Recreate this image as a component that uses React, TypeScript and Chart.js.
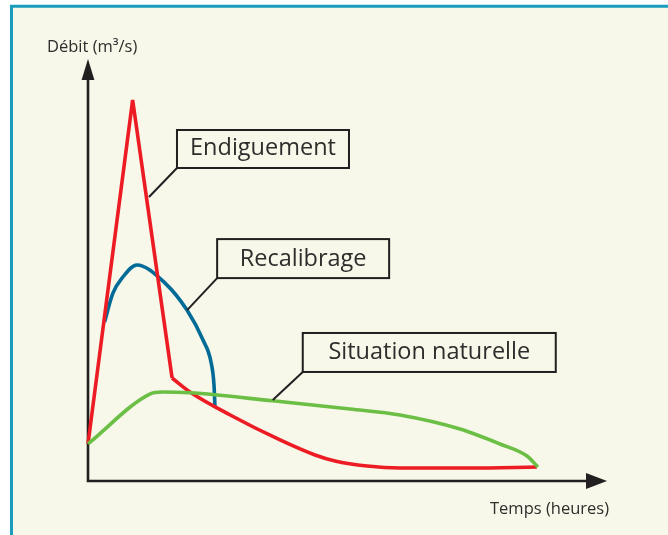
import React, { useEffect, useRef } from "react";
import { Chart, registerables } from "chart.js";

Chart.register(...registerables);

// ---- Data (time in arbitrary units 0..100, discharge 0..100) ----
const redRiseX = [0, 8.6, 16.2];
const redRiseY = [8.8, 90.3, 24.4];
const redFallX = [16.2, 19.65, 27.4, 37.0, 43.74, 47.59, 53.76, 60.1, 73.6, 86.5];
const redFallY = [24.4, 21.1, 15.64, 9.72, 6.16, 4.74, 3.55, 3.08, 3.08, 3.3];

const blueX = [3.2, 4.8, 6.7, 9.4, 14.84, 19.07, 22.16, 23.7, 24.28, 24.47];
const blueY = [37.7, 44.5, 48.3, 51.2, 46.9, 40.5, 33.4, 28.2, 22.7, 17.3];

const greenX = [0, 11.9, 14.3, 19.7, 35.6, 50.48, 60.1, 71.68, 79.38, 84.59, 86.7];
const greenY = [8.8, 20.6, 21.1, 20.9, 19.0, 17.06, 15.64, 12.32, 8.77, 5.92, 3.32];

const labelTexts = ["Endiguement", "Recalibrage", "Situation naturelle"];
const labelAnchorX = [11.75, 19.1, 35.6];
const labelAnchorY = [67.3, 40.5, 19.2];

const yAxisTitle = "Débit (m³/s)";
const xAxisTitle = "Temps (heures)";

// ---- Styles ----
const BG = "#f7f7ea";
const BORDER = "#1a9dbd";
const INK = "#231f20";
const TEXT = "#2e2d2c";
const RED = "#ed1c24";
const BLUE = "#006b96";
const GREEN = "#6cbf45";
const FONT = "'Open Sans', 'DejaVu Sans', sans-serif";

const boxGeom = [
  { dx: 28, dy: -29, w: 172, h: 38 },
  { dx: 30, dy: -32, w: 172, h: 39 },
  { dx: 30, dy: -28, w: 253, h: 39 },
];

const pts = (xs: number[], ys: number[]) => xs.map((x, i) => ({ x, y: ys[i] }));

const decorPlugin = {
  id: "decor",
  beforeDraw(chart: any) {
    const { ctx, width, height } = chart;
    ctx.save();
    ctx.fillStyle = "#ffffff";
    ctx.fillRect(0, 0, width, height);
    ctx.fillStyle = BG;
    ctx.fillRect(10, 5, width - 10, height - 5);
    ctx.strokeStyle = BORDER;
    ctx.lineWidth = 3;
    ctx.beginPath();
    ctx.moveTo(11.5, height);
    ctx.lineTo(11.5, 6.3);
    ctx.lineTo(width, 6.3);
    ctx.stroke();
    ctx.restore();
  },
  beforeDatasetsDraw(chart: any) {
    const { ctx } = chart;
    const xs = chart.scales.x;
    const ys = chart.scales.y;
    const x0 = xs.getPixelForValue(0);
    const y0 = ys.getPixelForValue(0);
    const yTip = ys.getPixelForValue(100);
    const xTip = xs.getPixelForValue(100);
    ctx.save();
    ctx.strokeStyle = INK;
    ctx.fillStyle = INK;
    ctx.lineWidth = 2.6;
    ctx.lineJoin = "miter";
    ctx.beginPath();
    ctx.moveTo(x0, yTip + 12);
    ctx.lineTo(x0, y0);
    ctx.lineTo(xTip - 12, y0);
    ctx.stroke();
    // y arrow
    ctx.beginPath();
    ctx.moveTo(x0, yTip);
    ctx.lineTo(x0 - 6.4, yTip + 21);
    ctx.lineTo(x0 + 6.4, yTip + 21);
    ctx.closePath();
    ctx.fill();
    // x arrow
    ctx.beginPath();
    ctx.moveTo(xTip, y0);
    ctx.lineTo(xTip - 21, y0 - 8);
    ctx.lineTo(xTip - 21, y0 + 8);
    ctx.closePath();
    ctx.fill();
    // axis titles
    ctx.fillStyle = TEXT;
    ctx.font = `16.5px ${FONT}`;
    ctx.textBaseline = "middle";
    ctx.textAlign = "left";
    ctx.fillText(yAxisTitle, x0 - 41, yTip - 12);
    ctx.textAlign = "right";
    ctx.fillText(xAxisTitle, xTip + 2, y0 + 28);
    ctx.restore();
  },
  afterDatasetsDraw(chart: any) {
    const { ctx } = chart;
    const xs = chart.scales.x;
    const ys = chart.scales.y;
    ctx.save();
    labelTexts.forEach((t, i) => {
      const ax = xs.getPixelForValue(labelAnchorX[i]);
      const ay = ys.getPixelForValue(labelAnchorY[i]);
      const g = boxGeom[i];
      const left = ax + g.dx;
      const bottom = ay + g.dy;
      ctx.strokeStyle = INK;
      ctx.lineWidth = 2;
      ctx.beginPath();
      ctx.moveTo(ax, ay);
      ctx.lineTo(left, bottom);
      ctx.stroke();
      ctx.strokeRect(left, bottom - g.h, g.w, g.h);
      ctx.fillStyle = TEXT;
      ctx.font = `23.5px ${FONT}`;
      ctx.textAlign = "center";
      ctx.textBaseline = "alphabetic";
      ctx.fillText(t, left + g.w / 2, bottom - 12.5);
    });
    ctx.restore();
  },
};

export default function App() {
  const ref = useRef<HTMLCanvasElement | null>(null);
  useEffect(() => {
    if (!ref.current) return;
    const common = {
      pointRadius: 0,
      pointHoverRadius: 0,
      borderWidth: 3.6,
      fill: false,
      clip: false as any,
    };
    const chart = new Chart(ref.current, {
      type: "line",
      data: {
        datasets: [
          {
            ...common,
            label: "Situation naturelle",
            data: pts(greenX, greenY),
            borderColor: GREEN,
            cubicInterpolationMode: "monotone",
          },
          {
            ...common,
            label: "Endiguement",
            data: pts(redFallX, redFallY),
            borderColor: RED,
            cubicInterpolationMode: "monotone",
          },
          {
            ...common,
            label: "Endiguement (montée)",
            data: pts(redRiseX, redRiseY),
            borderColor: RED,
            tension: 0,
            borderJoinStyle: "bevel",
          },
          {
            ...common,
            label: "Recalibrage",
            data: pts(blueX, blueY),
            borderColor: BLUE,
            cubicInterpolationMode: "monotone",
          },
        ] as any,
      },
      options: {
        responsive: false,
        animation: false,
        events: [],
        layout: { padding: { left: 88, right: 61, top: 59, bottom: 54 } },
        scales: {
          x: { type: "linear", min: 0, max: 100, display: false },
          y: { type: "linear", min: 0, max: 100, display: false },
        },
        plugins: {
          legend: { display: false },
          tooltip: { enabled: false },
          title: { display: false },
        },
      },
      plugins: [decorPlugin],
    });
    return () => chart.destroy();
  }, []);
  return (
    <div style={{ position: "fixed", left: 0, top: 0, width: 668, height: 535 }}>
      <canvas ref={ref} width={668} height={535} style={{ width: 668, height: 535, display: "block" }} />
    </div>
  );
}
